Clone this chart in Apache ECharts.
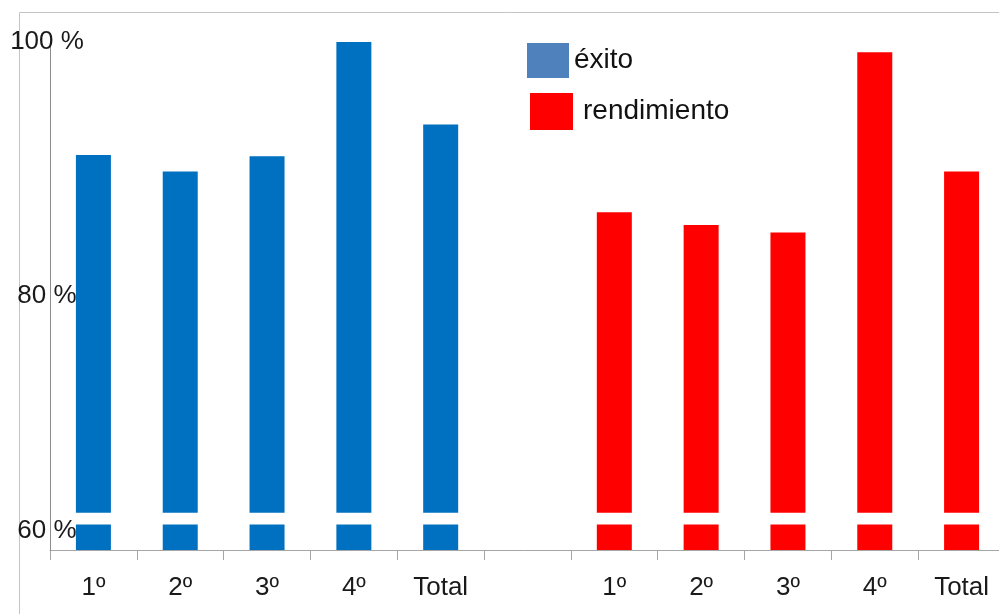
<!DOCTYPE html>
<html>
<head>
<meta charset="utf-8">
<script src="https://cdn.jsdelivr.net/npm/echarts@6/dist/echarts.min.js"></script>
<style>
  html, body { margin: 0; padding: 0; background: #fff; }
  #chart { width: 999px; height: 614px; }
</style>
</head>
<body>
<div id="chart"></div>
<script>
// Course levels, shown twice: once for "éxito", once for "rendimiento"
const categories = ['1º', '2º', '3º', '4º', 'Total', '', '1º', '2º', '3º', '4º', 'Total'];
const exito       = [91.1, 89.8, 91.0, 100, 93.5, null, null, null, null, null, null];
const rendimiento = [null, null, null, null, null, null, 86.6, 85.6, 85.0, 99.2, 89.8];
const yTicks = [60, 80, 100];
// Value range hidden behind the white cut drawn across the bars
const cutRange = [62.0, 62.93];

const FONT = 'Liberation Sans';
const chart = echarts.init(document.getElementById('chart'));

chart.setOption({
  animation: false,
  backgroundColor: '#fff',
  graphic: [{
    type: 'polyline',
    silent: true,
    shape: { points: [[19.5, 614], [19.5, 12.5], [999, 12.5]] },
    style: { stroke: '#c4c4c4', lineWidth: 1, fill: null }
  }],
  legend: [{
    left: 527, top: 43, padding: 0,
    orient: 'vertical',
    selectedMode: false,
    icon: 'rect', itemWidth: 42, itemHeight: 35,
    textStyle: { fontFamily: FONT, fontSize: 28, color: '#111', padding: [0, 0, 2, 0] },
    data: [{ name: 'éxito', itemStyle: { color: '#4F81BD' } }]
  }, {
    left: 530, top: 93, padding: 0,
    orient: 'vertical',
    selectedMode: false,
    icon: 'rect', itemWidth: 43, itemHeight: 37,
    textStyle: { fontFamily: FONT, fontSize: 28, color: '#111', padding: [0, 0, 2, 5] },
    data: [{ name: 'rendimiento', itemStyle: { color: '#FF0000' } }]
  }],
  // plot area runs slightly past the right edge of the canvas
  grid: { left: 50, right: -6, top: 42, bottom: 64, containLabel: false, outerBoundsMode: 'none' },
  xAxis: {
    type: 'category',
    data: categories,
    axisLine: { lineStyle: { color: '#a6a6a6', width: 1 } },
    axisTick: { show: true, length: 10, lineStyle: { color: '#a6a6a6' } },
    axisLabel: { fontFamily: FONT, fontSize: 26, color: '#1a1a1a', margin: 25, interval: 0 }
  },
  yAxis: {
    type: 'value',
    min: yTicks[0], max: yTicks[yTicks.length - 1], interval: 20,
    z: 20,
    splitLine: { show: false },
    axisTick: { show: false },
    axisLine: { show: true, lineStyle: { color: '#8c8c8c', width: 1 } },
    axisLabel: {
      fontFamily: FONT, fontSize: 26, color: '#1a1a1a',
      align: 'center', margin: 3,
      formatter: v => v === yTicks[0] ? '{lo|' + v + ' %}' : v + ' %',
      rich: { lo: { fontFamily: FONT, fontSize: 26, color: '#1a1a1a', padding: [0, 0, 38, 0] } }
    }
  },
  series: [{
    name: 'éxito',
    type: 'bar',
    data: exito,
    barWidth: 35,
    barGap: '-100%',
    itemStyle: { color: '#0070C0' }
  }, {
    name: 'rendimiento',
    type: 'bar',
    data: rendimiento,
    barWidth: 35,
    itemStyle: { color: '#FF0000' },
    markArea: {
      silent: true,
      z: 10,
      itemStyle: { color: '#ffffff', borderWidth: 0 },
      data: [[{ yAxis: cutRange[0] }, { yAxis: cutRange[1] }]]
    }
  }]
});
</script>
</body>
</html>
